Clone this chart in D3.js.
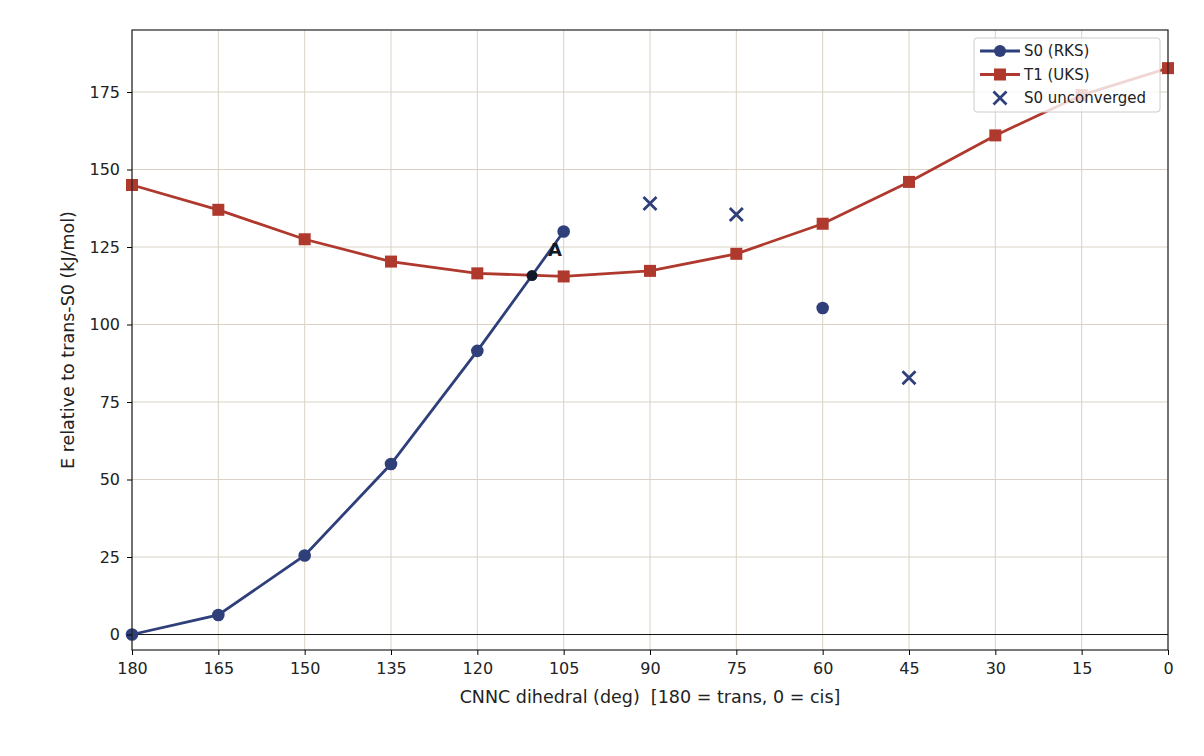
<!DOCTYPE html>
<html>
<head>
<script src="https://d3js.org/d3.v7.min.js"></script>
<style>
body { margin: 0; background: #fff; font-family: "DejaVu Sans", sans-serif; }
</style>
</head>
<body>
<div id="chart"></div>
<script>
// data
var s0Angles = [180, 165, 150, 135, 120, 110.5, 105];
var s0Values = [0, 6.3, 25.5, 55, 91.5, 115.8, 130];
var s0LoneAngles = [60];
var s0LoneValues = [105.3];
var t1Angles = [180, 165, 150, 135, 120, 105, 90, 75, 60, 45, 30, 15, 0];
var t1Values = [145, 137, 127.5, 120.3, 116.5, 115.5, 117.3, 122.8, 132.5, 146, 161, 174, 182.7];
var unconvAngles = [90, 75, 45];
var unconvValues = [139, 135.5, 82.8];
var crossAngle = 110.5, crossValue = 115.8;
var xTicks = [180, 165, 150, 135, 120, 105, 90, 75, 60, 45, 30, 15, 0];
var yTicks = [0, 25, 50, 75, 100, 125, 150, 175];

var blue = "#2e3f7a", red = "#b0392e";
var W = 1204, H = 756;
var m = {left: 132, right: 36, top: 30, bottom: 106};
var w = W - m.left - m.right, h = H - m.top - m.bottom;

var svg = d3.select("#chart").append("svg").attr("width", W).attr("height", H);
var g = svg.append("g").attr("transform", "translate(" + m.left + "," + m.top + ")");

var x = d3.scaleLinear().domain([180, 0]).range([0, w]);
var y = d3.scaleLinear().domain([-5, 195]).range([h, 0]);

// grid
g.selectAll(".gx").data(xTicks).enter().append("line")
  .attr("x1", d => x(d)).attr("x2", d => x(d)).attr("y1", 0).attr("y2", h)
  .attr("stroke", "#d9d2c5").attr("stroke-width", 1);
g.selectAll(".gy").data(yTicks).enter().append("line")
  .attr("y1", d => y(d)).attr("y2", d => y(d)).attr("x1", 0).attr("x2", w)
  .attr("stroke", "#d9d2c5").attr("stroke-width", 1);
g.append("line").attr("x1", 0).attr("x2", w).attr("y1", y(0)).attr("y2", y(0))
  .attr("stroke", "#000").attr("stroke-width", 0.9);

var line = d3.line().x(d => x(d[0])).y(d => y(d[1]));

var t1 = d3.zip(t1Angles, t1Values);
g.append("path").datum(t1).attr("d", line).attr("fill", "none")
  .attr("stroke", red).attr("stroke-width", 2.8);
g.selectAll(".t1").data(t1).enter().append("rect")
  .attr("x", d => x(d[0]) - 6).attr("y", d => y(d[1]) - 6)
  .attr("width", 12).attr("height", 12).attr("fill", red);

var s0 = d3.zip(s0Angles, s0Values);
g.append("path").datum(s0).attr("d", line).attr("fill", "none")
  .attr("stroke", blue).attr("stroke-width", 2.8);
g.selectAll(".s0").data(s0.filter(d => d[0] !== crossAngle).concat(d3.zip(s0LoneAngles, s0LoneValues)))
  .enter().append("circle")
  .attr("cx", d => x(d[0])).attr("cy", d => y(d[1])).attr("r", 6.3).attr("fill", blue);

g.selectAll(".uc").data(d3.zip(unconvAngles, unconvValues)).enter().append("path")
  .attr("transform", d => "translate(" + x(d[0]) + "," + y(d[1]) + ")")
  .attr("d", "M-6.5,-6.5L6.5,6.5M-6.5,6.5L6.5,-6.5").attr("stroke", blue).attr("stroke-width", 2.8);

g.append("circle").attr("cx", x(crossAngle)).attr("cy", y(crossValue)).attr("r", 5.5).attr("fill", "#111827");
g.append("text").attr("x", x(crossAngle) + 16).attr("y", y(crossValue) - 20)
  .attr("font-size", 18).attr("font-weight", "bold").attr("fill", "#111827").text("A");

// frame & axes
g.append("rect").attr("width", w).attr("height", h).attr("fill", "none").attr("stroke", "#222").attr("stroke-width", 1.2);
var xa = g.append("g").attr("transform", "translate(0," + h + ")")
  .call(d3.axisBottom(x).tickValues(xTicks).tickSize(5).tickPadding(8));
var ya = g.append("g").call(d3.axisLeft(y).tickValues(yTicks).tickSize(5).tickPadding(7));
[xa, ya].forEach(a => { a.select(".domain").remove(); a.selectAll("text").attr("font-size", 16).attr("fill", "#222").attr("font-family", "DejaVu Sans"); });

g.append("text").attr("x", w / 2).attr("y", h + 53).attr("text-anchor", "middle")
  .attr("font-size", 17.5).attr("fill", "#222").attr("xml:space", "preserve")
  .text("CNNC dihedral (deg)  [180 = trans, 0 = cis]");
g.append("text").attr("transform", "translate(-58," + (h / 2) + ") rotate(-90)")
  .attr("text-anchor", "middle").attr("font-size", 17.5).attr("fill", "#222")
  .text("E relative to trans-S0 (kJ/mol)");

// legend
var lg = svg.append("g").attr("transform", "translate(974,38)");
lg.append("rect").attr("width", 186).attr("height", 74).attr("rx", 3)
  .attr("fill", "#fff").attr("fill-opacity", 0.8).attr("stroke", "#ccc");
var items = [["S0 (RKS)", "c"], ["T1 (UKS)", "s"], ["S0 unconverged", "x"]];
items.forEach(function(it, i) {
  var yy = 13 + i * 23.5;
  if (it[1] !== "x") lg.append("line").attr("x1", 6).attr("x2", 46).attr("y1", yy).attr("y2", yy)
    .attr("stroke", it[1] === "c" ? blue : red).attr("stroke-width", 2.8);
  if (it[1] === "c") lg.append("circle").attr("cx", 26).attr("cy", yy).attr("r", 6).attr("fill", blue);
  if (it[1] === "s") lg.append("rect").attr("x", 20).attr("y", yy - 6).attr("width", 12).attr("height", 12).attr("fill", red);
  if (it[1] === "x") lg.append("path").attr("transform", "translate(26," + yy + ")")
    .attr("d", "M-6.5,-6.5L6.5,6.5M-6.5,6.5L6.5,-6.5").attr("stroke", blue).attr("stroke-width", 2.8);
  lg.append("text").attr("x", 50).attr("y", yy + 5).attr("font-size", 15).attr("fill", "#222").text(it[0]);
});
</script>
</body>
</html>
